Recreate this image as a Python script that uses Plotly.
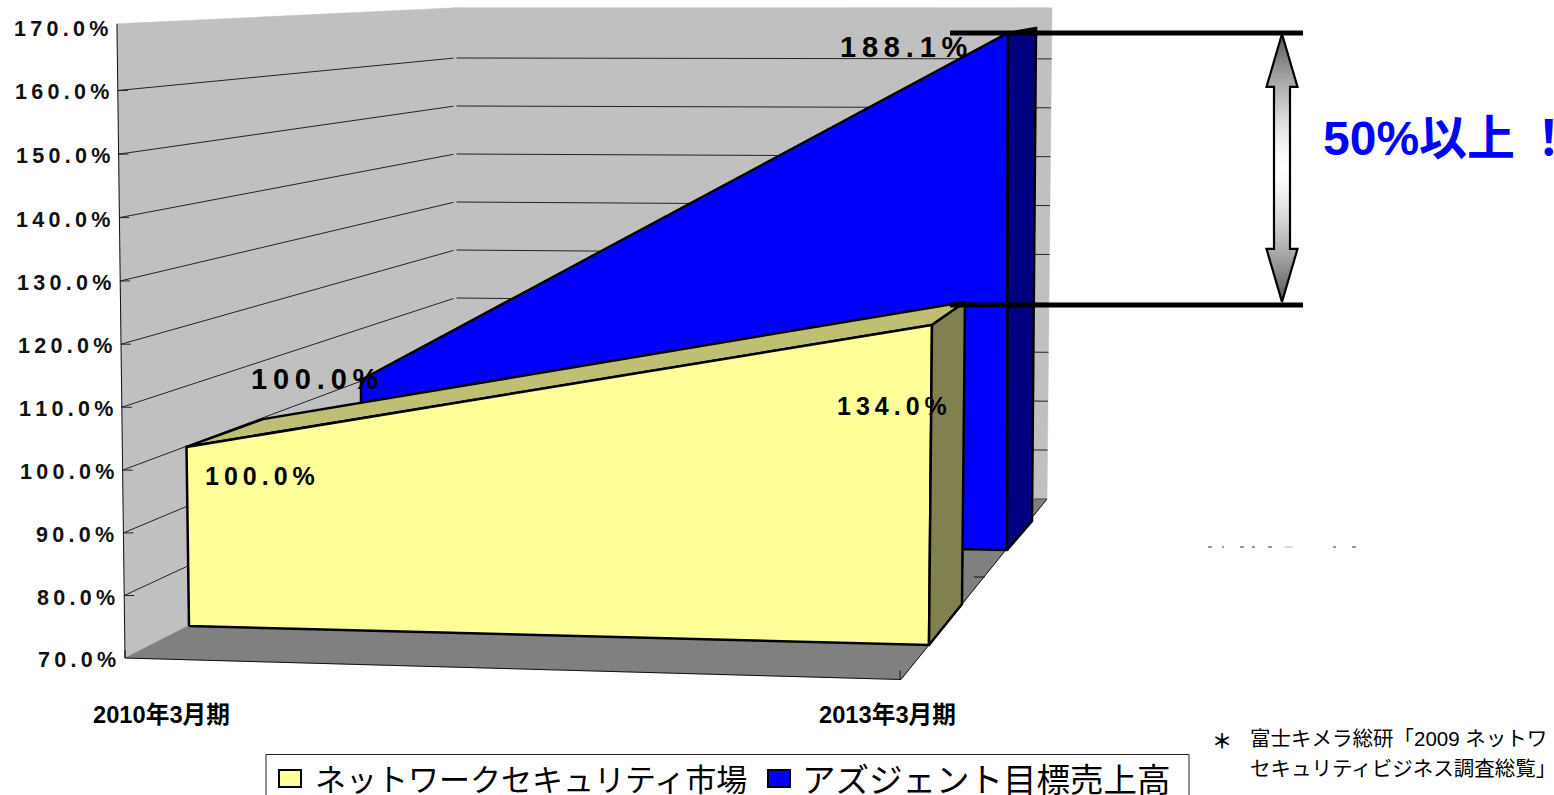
import numpy as np
import plotly.graph_objects as go

# ---- data ----
categories = ["2010年3月期", "2013年3月期"]
market_name = "ネットワークセキュリティ市場"
target_name = "アズジェント目標売上高"
market = [100.0, 134.0]
target = [100.0, 188.1]
axis_ticks = [70, 80, 90, 100, 110, 120, 130, 140, 150, 160, 170]
axis_labels = ["70.0%", "80.0%", "90.0%", "100.0%", "110.0%", "120.0%",
               "130.0%", "140.0%", "150.0%", "160.0%", "170.0%"]
callout = "50%以上\u2009！"
note_mark = "＊"
note_lines = ["富士キメラ総研「2009 ネットワ", "セキュリティビジネス調査総覧」"]

BASE = 70.0
FONT = "Liberation Sans, Noto Sans CJK JP, sans-serif"


# a vertical edge of the fake 3-D box: where it meets the floor and how it rises per unit
class Edge:
    def __init__(self, x0, y0, dy, dx=0.0, curve=0.0):
        self.x0, self.y0, self.dy, self.dx, self.curve = x0, y0, dy, dx, curve

    def at(self, v):
        d = v - BASE
        return self.x0 + self.dx * d, self.y0 - self.dy * d - self.curve * d * d


wall_left = Edge(125, 658, 6.24, -0.08, 0.00073)
wall_back = Edge(455, 490, 4.8)
wall_right = Edge(1047, 499, 4.89, 0.05)
floor_front_right = (901, 679.5)

m_front = [Edge(189, 626, 5.97, -0.083), Edge(929, 645, 5.0, 0.047)]
m_back = [Edge(263, 588, 5.63), Edge(962, 604, 4.72, 0.047)]
t_front = [Edge(361, 538, 5.27), Edge(1007, 550, 4.378, 0.0085)]
t_back = [None, Edge(1032, 521, 4.174, 0.034)]

fig = go.Figure()


def poly(points, fill, line="black", width=2.5):
    xs = [p[0] for p in points] + [points[0][0]]
    ys = [p[1] for p in points] + [points[0][1]]
    fig.add_trace(go.Scatter(x=xs, y=ys, mode="lines", fill="toself", fillcolor=fill,
                             line=dict(color=line, width=width), hoverinfo="skip",
                             showlegend=False))


def seg(points, color="black", width=1.0):
    fig.add_trace(go.Scatter(x=[p[0] for p in points], y=[p[1] for p in points], mode="lines",
                             line=dict(color=color, width=width), hoverinfo="skip",
                             showlegend=False))


def text(x, y, s, size, color="black", bold=True, anchor="center"):
    fig.add_annotation(x=x, y=y, text=s, showarrow=False, xanchor=anchor, yanchor="middle",
                       font=dict(family=FONT, size=size, color=color,
                                 weight="bold" if bold else "normal"))


def spaced(s):
    return "\u2009".join(s)


TOP = 170.45
WALL = "#C0C0C0"
FLOOR = "#808080"

# walls and floor
poly([wall_left.at(BASE), wall_left.at(TOP), wall_back.at(TOP), wall_back.at(BASE)], WALL, WALL, 0.5)
poly([wall_back.at(BASE), wall_back.at(TOP), wall_right.at(TOP), wall_right.at(BASE)], WALL, WALL, 0.5)
poly([wall_left.at(BASE), wall_back.at(BASE), wall_right.at(BASE), floor_front_right], FLOOR, FLOOR, 0.5)

# gridlines on the walls
for v in axis_ticks[1:-1]:
    a, b, c = wall_left.at(v), wall_back.at(v), wall_right.at(v)
    seg([a, b], "#222", 1)
    seg([b, c], "#222", 1)
    seg([a, (a[0] + 10, a[1])], "#222", 1)
seg([wall_back.at(BASE), wall_back.at(TOP)], WALL, 3)

# axis edges
seg([wall_left.at(TOP), wall_left.at(BASE), floor_front_right, wall_right.at(BASE)], "#111", 1)
seg([(wall_left.x0, wall_left.y0 - 8), (wall_left.x0, wall_left.y0)], "#111", 1)
seg([(floor_front_right[0] - 1, floor_front_right[1] - 9), (floor_front_right[0] - 1, floor_front_right[1])], "#111", 1)
seg([(974, 577), (985, 577)], "#111", 1)
seg([(1035, 499), (1047, 499)], "#555", 1)

# target series (blue)
poly([t_front[0].at(BASE), t_front[0].at(target[0]), t_front[1].at(target[1]), t_front[1].at(BASE)], "#0000FF")
poly([t_front[1].at(BASE), t_front[1].at(target[1]), t_back[1].at(target[1]), t_back[1].at(BASE)], "#000080")

# market series (yellow)
poly([m_front[0].at(market[0]), m_back[0].at(market[0]), m_back[1].at(market[1]), m_front[1].at(market[1])], "#BFBF73")
poly([m_front[0].at(BASE), m_front[0].at(market[0]), m_front[1].at(market[1]), m_front[1].at(BASE)], "#FFFF99")
poly([m_front[1].at(BASE), m_front[1].at(market[1]), m_back[1].at(market[1]), m_back[1].at(BASE)], "#808050")

# thick reference lines at the two end values
y_hi = t_front[1].at(target[1])[1]
y_lo = m_back[1].at(market[1])[1] + 3
for y, tip in ((y_hi, t_back[1].at(target[1])), (y_lo, m_back[1].at(market[1]))):
    seg([(950, y), (1303, y)], "black", 5)
    poly([(tip[0] - 28 if y == y_hi else tip[0] - 15, y), tip, (tip[0], y)], "black", "black", 1)

# double-headed gradient arrow
ax_c, ax_half_head, ax_half_shaft, head_len = 1282, 15.5, 8, 53
tip_a, tip_b = y_hi + 1, y_lo - 3
xs = np.arange(ax_c - ax_half_head, ax_c + ax_half_head + 1, 1.0)
ys = np.arange(tip_a, tip_b + 1, 1.0)
mid = (tip_a + tip_b) / 2
half = (tip_b - tip_a) / 2
Z = np.full((len(ys), len(xs)), np.nan)
for i, y in enumerate(ys):
    d = min(y - tip_a, tip_b - y)
    w = ax_half_head * d / head_len if d < head_len else ax_half_shaft
    for j, x in enumerate(xs):
        if abs(x - ax_c) <= w:
            t = abs(y - mid) / half
            Z[i, j] = 255 - 170 * t ** 1.5
fig.add_trace(go.Heatmap(x=xs, y=ys, z=Z, zmin=0, zmax=255, showscale=False, hoverinfo="skip",
                         colorscale=[[0, "#000000"], [1, "#FFFFFF"]]))
hl = head_len
arrow_right = [(ax_c, tip_a), (ax_c + ax_half_head, tip_a + hl), (ax_c + ax_half_shaft, tip_a + hl),
               (ax_c + ax_half_shaft, tip_b - hl), (ax_c + ax_half_head, tip_b - hl), (ax_c, tip_b)]
arrow_left = [(2 * ax_c - p[0], p[1]) for p in reversed(arrow_right)]
seg(arrow_right + arrow_left[1:] + [arrow_right[1]], "black", 2.2)

# stray clipped text remnants
fig.add_trace(go.Scatter(
    x=[1208, 1212, None, 1222, 1224, None, 1240, 1244, None, 1252, 1255, None, 1268, 1272, None,
       1333, 1336, None, 1352, 1356],
    y=[547, 547, None, 547, 547, None, 547, 547, None, 547, 547, None, 547, 547, None,
       547, 547, None, 547, 547],
    mode="lines", line=dict(color="#333", width=1), hoverinfo="skip", showlegend=False))
seg([(1285, 547), (1293, 547)], "#BBB", 1)

# axis tick labels
for v, lab in zip(axis_ticks, axis_labels):
    x, y = wall_left.at(v)
    fig.add_annotation(x=x - 7, y=y + 2, text=spaced(lab), showarrow=False, xanchor="right", yanchor="middle",
                       font=dict(family=FONT, size=21.5, color="#111", weight="bold"))

# value labels
text(260, 476, spaced(f"{market[0]:.1f}%"), 25)
text(891.5, 406, spaced(f"{market[1]:.1f}%"), 25)
text(315, 379, spaced(f"{target[0]:.1f}%"), 29)
text(903.5, 47, spaced(f"{target[1]:.1f}%"), 29)

# category labels
text(161.5, 715, categories[0], 23.7)
text(887, 715, categories[1], 23.7)

# callout
text(1321, 138, callout, 48, "#0000FF", anchor="left")

# footnote
text(1222, 742, note_mark, 20)
text(1247.5, 738, note_lines[0], 20.5, bold=False, anchor="left")
text(1247.5, 768, note_lines[1], 20.5, bold=False, anchor="left")

# legend (box runs off the bottom of the page)
shapes = [
    dict(type="rect", xref="x", yref="y", x0=266, x1=1189, y0=754.5, y1=810,
         line=dict(color="#222", width=1), fillcolor="white", layer="above"),
]
fig.update_layout(shapes=shapes)
swatches = [(279, 301, "#FFFF99"), (768, 790, "#0000FF")]
for x0, x1, c in swatches:
    fig.add_shape(type="rect", xref="x", yref="y", x0=x0, x1=x1, y0=770, y1=787,
                  line=dict(color="black", width=2), fillcolor=c, layer="above")
text(313, 780, market_name, 31, bold=False, anchor="left")
text(800, 780, target_name, 33.5, bold=False, anchor="left")

fig.update_layout(
    width=1554, height=795, margin=dict(l=0, r=0, t=0, b=0, pad=0),
    paper_bgcolor="white", plot_bgcolor="white", showlegend=False,
    xaxis=dict(range=[0, 1554], visible=False, fixedrange=True),
    yaxis=dict(range=[795, 0], visible=False, fixedrange=True),
)
fig.write_html("out.html", config={"displayModeBar": False},
               post_script="document.body.style.margin='0';document.body.style.overflow='hidden';")
